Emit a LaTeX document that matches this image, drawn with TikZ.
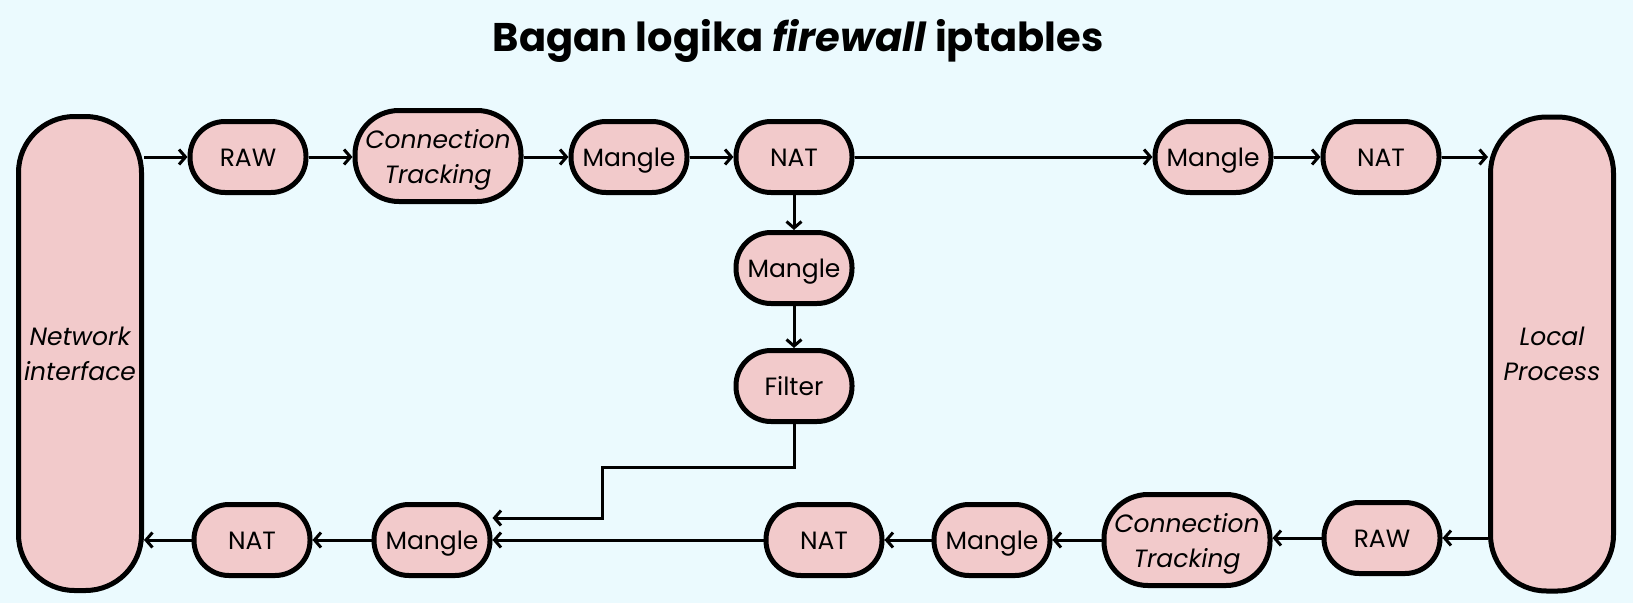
\documentclass[tikz,border=0pt]{standalone}
\usepackage{fontspec}
\setmainfont{Poppins}
\usetikzlibrary{arrows.meta,shapes}
\definecolor{bgcol}{RGB}{235,250,254}
\definecolor{boxcol}{RGB}{242,202,203}
\tikzset{
  box/.style={draw, line width=5pt, fill=boxcol, rounded corners=35pt,
    minimum width=116pt, minimum height=71pt, inner sep=0pt, align=center,
    text height=18pt, text depth=0pt, font=\fontsize{25}{30}\selectfont},
  ctbox/.style={box, rounded corners=44pt, minimum width=166pt, minimum height=91pt,
    text height=, text depth=0pt, font=\fontsize{25}{35}\selectfont\itshape},
  tallbox/.style={box, rounded corners=56pt, minimum width=123pt, minimum height=474pt,
    text height=, text depth=0pt, font=\fontsize{25}{35}\selectfont\itshape},
  arr/.style={line width=3pt, -{Straight Barb[length=6.5pt,width=15pt]}}
}

\begin{document}
\begin{tikzpicture}[x=1pt,y=-1pt]
\useasboundingbox (0,0) rectangle (1633,603);
\fill[bgcol] (0,0) rectangle (1633,603);
\node (judul) at (798,51) [anchor=base, font=\fontsize{40}{46}\selectfont\bfseries]
  {Bagan logika \textit{firewall} iptables};
% tiang kiri dan kanan
\node[tallbox] (ni) at (80,353.5) {Network\\interface};
\node[tallbox] (lp) at (1552,354) {Local\\Process};
% baris atas
\node[box] (raw1) at (248,157) {RAW};
\node[ctbox] (ct1) at (438,156) {Connection\\Tracking};
\node[box] (mg1) at (629,157) {Mangle};
\node[box] (nat1) at (794,157) {NAT};
\node[box] (mg2) at (1213,157) {Mangle};
\node[box] (nat2) at (1381,157) {NAT};
% kolom tengah
\node[box] (mg3) at (794,268) {Mangle};
\node[box] (flt) at (794,386) {Filter};
% baris bawah
\node[box] (nat4) at (252,540) {NAT};
\node[box] (mg5) at (432,540) {Mangle};
\node[box] (nat3) at (824,540) {NAT};
\node[box] (mg4) at (992,540) {Mangle};
\node[ctbox] (ct2) at (1187,540) {Connection\\Tracking};
\node[box] (raw2) at (1382,538) {RAW};
\coordinate (k1) at (602,467);
\coordinate (k2) at (602,518);

\draw[arr] (ni.east |- raw1) -- (raw1.west);
\draw[arr] (raw1) -- (ct1.west |- raw1);
\draw[arr] (ct1.east |- mg1) -- (mg1);
\draw[arr] (mg1) -- (nat1);
\draw[arr] (nat1) -- (mg2);
\draw[arr] (mg2) -- (nat2);
\draw[arr] (nat2) -- (lp.west |- nat2);
\draw[arr] (nat1) -- (mg3);
\draw[arr] (mg3) -- (flt);
\draw[arr] (flt.south) |- (k1) -- (k2) -- (mg5.east |- k2);
\draw[arr] (lp.west |- raw2) -- (raw2);
\draw[arr] (raw2) -- (ct2.east |- raw2);
\draw[arr] (ct2) -- (mg4);
\draw[arr] (mg4) -- (nat3);
\draw[arr] (nat3) -- (mg5);
\draw[arr] (mg5) -- (nat4);
\draw[arr] (nat4) -- (ni.east |- nat4);
\end{tikzpicture}
\end{document}
